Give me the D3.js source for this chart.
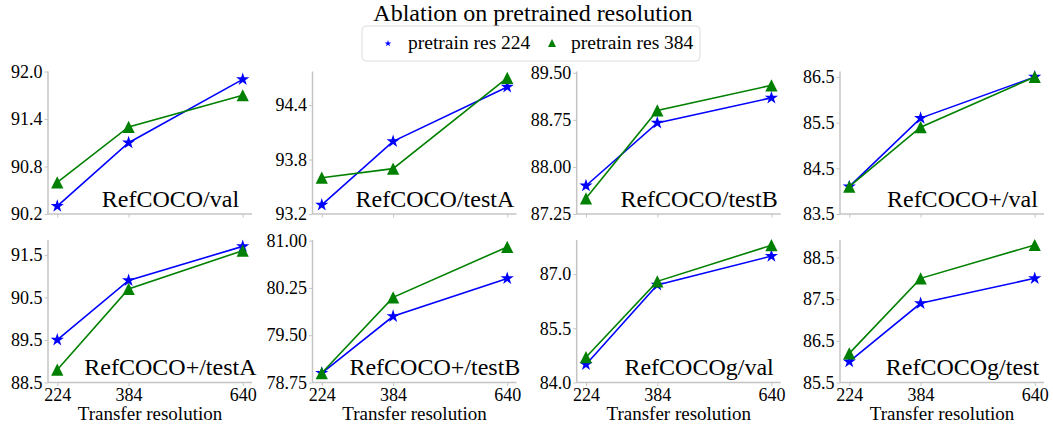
<!DOCTYPE html>
<html>
<head>
<meta charset="utf-8">
<script src="https://cdn.jsdelivr.net/npm/d3@7"></script>
<style>
  body { margin: 0; background: #fff; }
  svg { font-family: "Liberation Serif", "Times New Roman", serif; }
</style>
</head>
<body>
<svg id="chart" width="1053" height="427"></svg>
<script>
// values
const resolutions = [224, 384, 640];
const panelNames = ['RefCOCO/val', 'RefCOCO/testA', 'RefCOCO/testB', 'RefCOCO+/val',
  'RefCOCO+/testA', 'RefCOCO+/testB', 'RefCOCOg/val', 'RefCOCOg/test'];
const res224 = [
  [90.3, 91.1, 91.9], [93.3, 94.0, 94.6], [87.7, 88.7, 89.1], [84.1, 85.6, 86.5],
  [89.5, 90.9, 91.7], [78.9, 79.8, 80.4], [84.5, 86.7, 87.5], [86.0, 87.4, 88.0]
];
const res384 = [
  [90.6, 91.3, 91.7], [93.6, 93.7, 94.7], [87.5, 88.9, 89.3], [84.1, 85.4, 86.5],
  [88.8, 90.7, 91.6], [78.9, 80.1, 80.9], [84.7, 86.8, 87.8], [86.2, 88.0, 88.8]
];
const yTickLabels = [
  ['90.2', '90.8', '91.4', '92.0'], ['93.2', '93.8', '94.4'],
  ['87.25', '88.00', '88.75', '89.50'], ['83.5', '84.5', '85.5', '86.5'],
  ['88.5', '89.5', '90.5', '91.5'], ['78.75', '79.50', '80.25', '81.00'],
  ['84.0', '85.5', '87.0'], ['85.5', '86.5', '87.5', '88.5']
];
const yTop = [92.0, 94.77, 89.52, 86.62, 91.85, 81.01, 87.945, 88.92];
const seriesNames = ['pretrain res 224', 'pretrain res 384'];

const svg = d3.select('#chart');
const colors = ['#0000ff', '#008000'];
const font = '"Liberation Serif", "Times New Roman", serif';

const colLeft = [48, 312.5, 576.7, 840];
const panelW = 204;
const rowTop = [71.5, 240];
const rowBottom = [214, 382.5];
const spineColor = '#c4c4c4';

// matplotlib-like triangle (width == height)
const triangle = {
  draw(ctx, size) {
    const h = Math.sqrt(size) / 2;
    ctx.moveTo(0, -h);
    ctx.lineTo(h, h);
    ctx.lineTo(-h, h);
    ctx.closePath();
  }
};
const starSym = d3.symbol().type(d3.symbolStar);
const triSym = d3.symbol().type(triangle);

// title
svg.append('text')
  .attr('x', 533).attr('y', 21)
  .attr('text-anchor', 'middle')
  .style('font-size', '24px')
  .text('Ablation on pretrained resolution');

// legend
let leg = svg.append('g');
leg.append('rect')
  .attr('x', 362).attr('y', 26).attr('width', 338).attr('height', 35)
  .attr('rx', 4)
  .attr('fill', '#fff').attr('stroke', '#dcdcdc').attr('stroke-width', 1);
leg.append('path')
  .attr('transform', 'translate(388,43.5)')
  .attr('d', starSym.size(14)())
  .attr('fill', colors[0]);
leg.append('text')
  .attr('x', 408).attr('y', 49)
  .style('font-size', '19.5px')
  .text(seriesNames[0]);
leg.append('path')
  .attr('transform', 'translate(552,43)')
  .attr('d', triSym.size(64)())
  .attr('fill', colors[1]);
leg.append('text')
  .attr('x', 571).attr('y', 49)
  .style('font-size', '19.5px')
  .text(seriesNames[1]);

panelNames.forEach((name, i) => {
  const col = i % 4, row = Math.floor(i / 4);
  const left = colLeft[col];
  const top = rowTop[row], bottom = rowBottom[row];

  const ticks = yTickLabels[i].map(Number);
  const x = d3.scaleLinear()
    .domain([224 - 0.05 * 416, 640 + 0.05 * 416])
    .range([left, left + panelW]);
  const y = d3.scaleLinear()
    .domain([ticks[0], yTop[i]])
    .range([bottom, top]);

  const g = svg.append('g');

  // y axis
  const yAxis = g.append('g')
    .attr('transform', 'translate(' + left + ',0)')
    .call(d3.axisLeft(y).tickValues(ticks).tickSize(3.5).tickPadding(2)
      .tickFormat((d, k) => yTickLabels[i][k]));
  // x axis
  const xAxis = g.append('g')
    .attr('transform', 'translate(0,' + bottom + ')')
    .call(d3.axisBottom(x).tickValues(resolutions).tickSize(3.5).tickPadding(1)
      .tickFormat(d => row === 1 ? d : ''));

  [yAxis, xAxis].forEach(a => {
    a.select('.domain').attr('stroke', spineColor).attr('stroke-width', 1.5)
      .attr('d', a === yAxis
        ? 'M0,' + bottom + 'V' + top
        : 'M' + left + ',0H' + (left + panelW));
    a.selectAll('.tick line').attr('stroke', spineColor).attr('stroke-width', 1);
    a.selectAll('.tick text')
      .attr('fill', '#000')
      .style('font-size', '18px')
      .style('font-family', font);
  });
  xAxis.selectAll('.tick text').attr('dy', '0.75em');

  if (row === 1) {
    g.append('text')
      .attr('x', left + panelW / 2).attr('y', 420)
      .attr('text-anchor', 'middle')
      .style('font-size', '19px')
      .text('Transfer resolution');
  }

  // series: blue first, green on top
  [res224[i], res384[i]].forEach((vals, s) => {
    const pts = vals.map((v, k) => [resolutions[k], v]);
    g.append('path')
      .datum(pts)
      .attr('fill', 'none')
      .attr('stroke', colors[s])
      .attr('stroke-width', 1.6)
      .attr('d', d3.line().x(d => x(d[0])).y(d => y(d[1])));
    g.selectAll('.m' + s)
      .data(pts)
      .enter().append('path')
      .attr('class', 'm' + s)
      .attr('transform', d => 'translate(' + x(d[0]) + ',' + y(d[1]) + ')')
      .attr('d', s === 0 ? starSym.size(54)() : triSym.size(150)())
      .attr('fill', colors[s]);
  });

  // panel label
  g.append('text')
    .attr('x', left + 0.6 * panelW).attr('y', bottom - 7.5)
    .attr('text-anchor', 'middle')
    .style('font-size', '24px')
    .text(name);
});
</script>
</body>
</html>
